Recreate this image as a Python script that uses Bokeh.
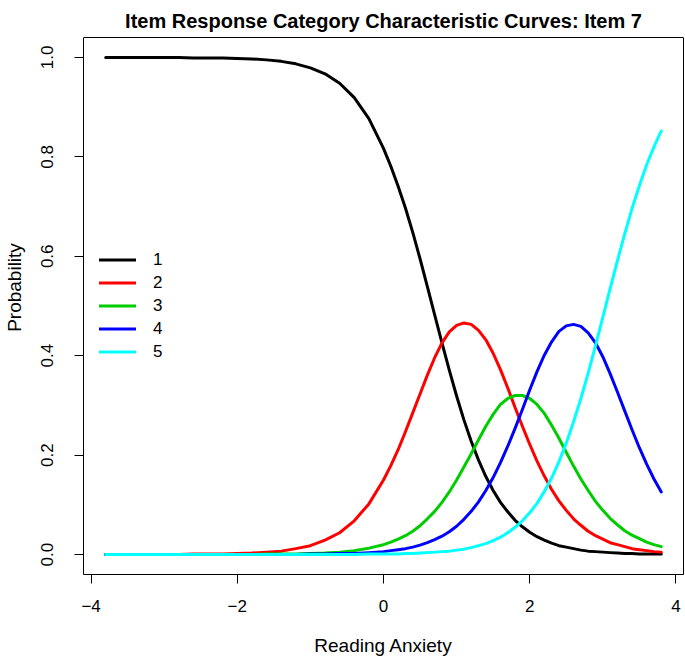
from bokeh.plotting import figure
from bokeh.models import (Range1d, FixedTicker, Legend, LegendItem, Label,
                          Span, LinearAxis)
from bokeh.embed import file_html
from bokeh.resources import INLINE

# ---------------- data ----------------
theta = [-3.8, -3.6, -3.4, -3.2, -3.0, -2.8, -2.6, -2.4, -2.2, -2.0,
         -1.8, -1.6, -1.4, -1.2, -1.0, -0.8, -0.6, -0.4, -0.2,
         0.0, 0.1, 0.2, 0.3, 0.4, 0.5, 0.6, 0.7, 0.8, 0.9,
         1.0, 1.1, 1.2, 1.3, 1.4, 1.5, 1.6, 1.7, 1.8, 1.9,
         2.0, 2.1, 2.2, 2.3, 2.4, 2.5, 2.6, 2.7, 2.8, 2.9,
         3.0, 3.1, 3.2, 3.3, 3.4, 3.5, 3.6, 3.7, 3.8]

cat1 = [1.000, 1.000, 1.000, 1.000, 1.000, 1.000, 0.999, 0.999, 0.999, 0.998,
        0.997, 0.995, 0.992, 0.987, 0.979, 0.967, 0.948, 0.919, 0.877,
        0.817, 0.781, 0.741, 0.697, 0.648, 0.595, 0.539, 0.482, 0.426, 0.371,
        0.319, 0.271, 0.228, 0.190, 0.157, 0.129, 0.105, 0.086, 0.069, 0.056,
        0.045, 0.036, 0.029, 0.023, 0.018, 0.015, 0.012, 0.009, 0.007, 0.006,
        0.005, 0.004, 0.003, 0.002, 0.002, 0.001, 0.001, 0.001, 0.001]

cat2 = [0.000, 0.000, 0.000, 0.000, 0.000, 0.000, 0.001, 0.001, 0.001, 0.002,
        0.003, 0.005, 0.007, 0.012, 0.018, 0.029, 0.044, 0.068, 0.102,
        0.150, 0.179, 0.211, 0.247, 0.285, 0.323, 0.361, 0.396, 0.426, 0.448,
        0.461, 0.466, 0.463, 0.451, 0.432, 0.405, 0.372, 0.335, 0.296, 0.258,
        0.222, 0.188, 0.158, 0.131, 0.108, 0.089, 0.072, 0.059, 0.047, 0.038,
        0.031, 0.024, 0.020, 0.016, 0.012, 0.010, 0.008, 0.006, 0.005]

cat3 = [0.000, 0.000, 0.000, 0.000, 0.000, 0.000, 0.000, 0.000, 0.000, 0.000,
        0.000, 0.001, 0.001, 0.001, 0.002, 0.003, 0.005, 0.008, 0.013,
        0.020, 0.025, 0.031, 0.038, 0.047, 0.058, 0.072, 0.087, 0.105, 0.126,
        0.150, 0.176, 0.203, 0.231, 0.258, 0.282, 0.302, 0.314, 0.320, 0.320,
        0.314, 0.302, 0.284, 0.260, 0.234, 0.206, 0.178, 0.152, 0.129, 0.107,
        0.089, 0.073, 0.060, 0.048, 0.039, 0.032, 0.025, 0.020, 0.016]

cat4 = [0.000, 0.000, 0.000, 0.000, 0.000, 0.000, 0.000, 0.000, 0.000, 0.000,
        0.000, 0.000, 0.000, 0.000, 0.001, 0.001, 0.002, 0.002, 0.004,
        0.006, 0.008, 0.010, 0.012, 0.015, 0.019, 0.024, 0.030, 0.037, 0.046,
        0.057, 0.071, 0.087, 0.106, 0.129, 0.155, 0.185, 0.218, 0.254, 0.292,
        0.331, 0.368, 0.401, 0.428, 0.449, 0.460, 0.463, 0.459, 0.446, 0.426,
        0.398, 0.364, 0.327, 0.289, 0.251, 0.215, 0.182, 0.152, 0.126]

cat5 = [0.000, 0.000, 0.000, 0.000, 0.000, 0.000, 0.000, 0.000, 0.000, 0.000,
        0.000, 0.000, 0.000, 0.000, 0.000, 0.000, 0.000, 0.000, 0.001,
        0.001, 0.001, 0.001, 0.002, 0.002, 0.003, 0.004, 0.005, 0.006, 0.007,
        0.009, 0.011, 0.014, 0.018, 0.022, 0.028, 0.035, 0.044, 0.055, 0.068,
        0.084, 0.103, 0.127, 0.154, 0.187, 0.224, 0.267, 0.314, 0.365, 0.420,
        0.477, 0.535, 0.591, 0.645, 0.696, 0.742, 0.784, 0.820, 0.852]

categories = ["1", "2", "3", "4", "5"]
series = [cat1, cat2, cat3, cat4, cat5]
colors = ["#000000", "#FF0000", "#00CD00", "#0000FF", "#00FFFF"]

x_ticks = [-4, -2, 0, 2, 4]
x_tick_labels = ["\u22124", "\u22122", "0", "2", "4"]
y_ticks = [0.0, 0.2, 0.4, 0.6, 0.8, 1.0]
y_tick_labels = ["0.0", "0.2", "0.4", "0.6", "0.8", "1.0"]

title_text = "Item Response Category Characteristic Curves: Item 7"
x_label = "Reading Anxiety"
y_label = "Probability"

FONT = "Liberation Sans"

# ---------------- layout constants (pixels) ----------------
W, H = 685, 658
BORDER_LEFT, BORDER_RIGHT, BORDER_BOTTOM = 83, 2, 84
BOX_TOP = 37            # distance of the plot box from the top of the canvas
TITLE_BASELINE = 20     # title baseline from the top of the canvas

# R-style 4% padding of the data range
xmin, xmax = min(theta), max(theta)
ymin = min(min(s) for s in series)
ymax = max(max(s) for s in series)
xpad = 0.04 * (xmax - xmin)
ypad = 0.04 * (ymax - ymin)
x0, x1 = xmin - xpad, xmax + xpad
y0, y1 = ymin - ypad, ymax + ypad

# the frame reaches the canvas top so that the title can live inside it;
# the R plot box (y0..y1) is drawn explicitly
frame_h = H - BORDER_BOTTOM
box_h = frame_h - BOX_TOP
y_top = y1 + BOX_TOP * (y1 - y0) / box_h

p = figure(width=W, height=H,
           x_range=Range1d(x0, x1),
           y_range=Range1d(y0, y_top),
           output_backend="svg", toolbar_location=None,
           min_border_left=BORDER_LEFT, min_border_right=BORDER_RIGHT,
           min_border_top=0, min_border_bottom=BORDER_BOTTOM)

p.background_fill_color = "white"
p.border_fill_color = "white"
p.outline_line_color = None
p.xgrid.visible = False
p.ygrid.visible = False

renderers = []
for s, c in zip(series, colors):
    r = p.line(theta, s, line_color=c, line_width=3,
               line_cap="round", line_join="round")
    renderers.append(r)

# title
p.add_layout(Label(x=(x0 + x1) / 2, y=y1, y_offset=BOX_TOP - TITLE_BASELINE,
                   text=title_text, text_font=FONT, text_font_size="20px",
                   text_font_style="bold", text_color="black",
                   text_align="center", text_baseline="alphabetic"))

# axes
for ax in (p.xaxis[0], p.yaxis[0]):
    ax.axis_line_color = "black"
    ax.axis_line_width = 1
    ax.major_tick_line_color = "black"
    ax.major_tick_line_width = 1
    ax.major_tick_in = 0
    ax.major_tick_out = 9
    ax.minor_tick_line_color = None
    ax.major_label_text_font = FONT
    ax.major_label_text_font_size = "17px"
    ax.major_label_text_color = "black"
    ax.axis_label_text_font = FONT
    ax.axis_label_text_font_size = "19px"
    ax.axis_label_text_font_style = "normal"
    ax.axis_label_text_color = "black"

p.xaxis.ticker = FixedTicker(ticks=x_ticks)
p.xaxis.major_label_overrides = {t: l for t, l in zip(x_ticks, x_tick_labels)}
p.xaxis.axis_label = x_label
p.xaxis.major_label_standoff = 16
p.xaxis.axis_label_standoff = 20

p.yaxis.ticker = FixedTicker(ticks=y_ticks)
p.yaxis.bounds = (y0, y1)
p.yaxis.major_label_overrides = {t: l for t, l in zip(y_ticks, y_tick_labels)}
p.yaxis.major_label_orientation = "vertical"
p.yaxis.axis_label = y_label
p.yaxis.major_label_standoff = 21
p.yaxis.axis_label_standoff = 14

# right and top edges of the plot box
right_edge = LinearAxis(bounds=(y0, y1), ticker=FixedTicker(ticks=[]),
                        axis_line_color="black", axis_line_width=1,
                        major_tick_line_color=None, minor_tick_line_color=None,
                        major_label_text_font_size="0px")
p.add_layout(right_edge, "right")
p.add_layout(Span(location=y1, dimension="width", line_color="black",
                  line_width=1))

legend = Legend(items=[LegendItem(label=c, renderers=[r])
                       for c, r in zip(categories, renderers)],
                location=(16, 211),
                glyph_width=37, glyph_height=23, label_height=23,
                spacing=0, padding=0, margin=0, label_standoff=17,
                label_text_font=FONT, label_text_font_size="17px",
                label_text_color="black",
                border_line_color=None, background_fill_alpha=0)
p.add_layout(legend)

open("out.html", "w").write(file_html(p, INLINE))
